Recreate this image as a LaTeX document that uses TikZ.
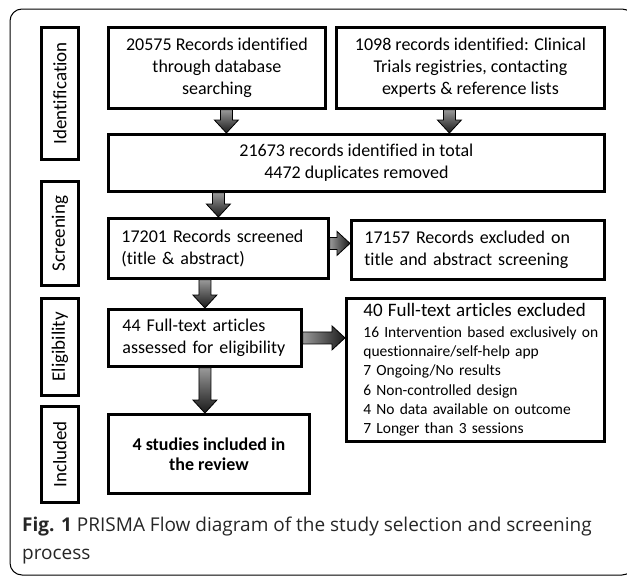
\documentclass[tikz,border=0pt]{standalone}
\usepackage{fontspec}
\setmainfont{Carlito}[Ligatures={NoCommon,NoContextual,NoRare}, Contextuals=NoAlternate]
\newfontfamily\capfont{Open Sans}
\usetikzlibrary{calc}

\tikzset{
  box/.style={draw=black, line width=2.8pt, fill=white, inner sep=0pt, anchor=north west,
    font=\fontsize{18}{22}\selectfont},
  stagebox/.style={draw=black, line width=2.8pt, inner sep=0pt, anchor=north west,
    minimum width=37pt, font=\fontsize{19}{22}\selectfont},
  blockarrow/.style={draw=black, line width=0.8pt, line join=miter},
}

\newcommand\vblockarrow[2]{%
  \path[blockarrow, top color=black!40, bottom color=black!90] let \p1=(#1), \p2=(#2) in
  (\x1-6pt,\y1) -- (\x1-6pt,\y2+13pt) -- (\x1-12pt,\y2+13pt) -- (\x1,\y2) --
  (\x1+12pt,\y2+13pt) -- (\x1+6pt,\y2+13pt) -- (\x1+6pt,\y1) -- cycle;}
\newcommand\hblockarrow[2]{%
  \path[blockarrow, left color=black!40, right color=black!90] let \p1=(#1), \p2=(#2) in
  (\x1,\y1+6pt) -- (\x2-13pt,\y1+6pt) -- (\x2-13pt,\y1+12pt) -- (\x2,\y1) --
  (\x2-13pt,\y1-12pt) -- (\x2-13pt,\y1-6pt) -- (\x1,\y1-6pt) -- cycle;}

\begin{document}
\begin{tikzpicture}[x=1pt, y=-1pt]
\useasboundingbox (0,0) rectangle (627,576);
\clip (0,0) rectangle (627,576);
\fill[white] (0,0) rectangle (627,576);

% outer frame
\draw[line width=1pt, rounded corners=12pt] (10,9) rectangle (634,575);

% stage labels
\node[stagebox, minimum height=132pt] (s1) at (40,26) {\rotatebox{90}{Identification}};
\node[stagebox, minimum height=104pt] (s2) at (40,180) {\rotatebox{90}{Screening}};
\node[stagebox, minimum height=97pt] (s3) at (40,297) {\rotatebox{90}{Eligibility}};
\node[stagebox, minimum height=96pt] (s4) at (40,405) {\rotatebox{90}{Included}};

% boxes
\node[box, minimum width=217pt, minimum height=81pt, align=center] (A) at (107,26)
  {20575 Records identified\\through database\\searching};
\node[box, minimum width=268pt, minimum height=81pt, align=center] (B) at (335,26)
  {1098 records identified: Clinical\\Trials registries, contacting\\experts \& reference lists};
\node[box, minimum width=496pt, minimum height=57pt, align=center] (C) at (107,133)
  {21673 records identified in total\\4472 duplicates removed};
\node[box, minimum width=220pt, minimum height=60pt, text width=194pt, align=left] (D) at (107,217)
  {\mbox{17201 Records screened}\\\mbox{(title \& abstract)}};
\node[box, minimum width=253pt, minimum height=59pt, text width=227pt, align=left] (E) at (350,219)
  {\mbox{17157 Records excluded on}\\\mbox{title and abstract screening}};
\node[box, minimum width=193pt, minimum height=57pt, text width=165pt, align=left] (F) at (107,308)
  {\mbox{44 Full-text articles}\\\mbox{assessed for eligibility}};
\node[box, minimum width=258pt, minimum height=143pt, text width=224pt, align=left,
  font=\fontsize{15.5}{19.3}\selectfont] (G) at (345,297)
  {\mbox{\fontsize{19}{22}\selectfont 40 Full-text articles excluded}\\[1.5pt]
   \mbox{16 Intervention based exclusively on}\\
   \mbox{questionnaire/self-help app}\\
   \mbox{7 Ongoing/No results}\\
   \mbox{6 Non-controlled design}\\
   \mbox{4 No data available on outcome}\\
   \mbox{7 Longer than 3 sessions}};
\node[box, minimum width=201pt, minimum height=79pt, align=center, font=\fontsize{18}{20}\selectfont\bfseries] (H) at (107,413)
  {4 studies included in\\the review};

% arrows
\vblockarrow{[xshift=9.5pt]A.south}{C.north}
\vblockarrow{[xshift=-21pt]B.south}{C.north}
\vblockarrow{C.south -| D.north}{D.north}
\hblockarrow{[yshift=5pt]D.east}{E.west}
\vblockarrow{D.south -| F.north}{F.north}
\hblockarrow{F.east}{G.west}
\vblockarrow{F.south}{H.north}

% caption
\node[anchor=north west, inner sep=0pt, align=left, text=black!85, font=\capfont\fontsize{19}{28}\selectfont] (cap) at (22,517)
  {\textbf{Fig. 1} PRISMA Flow diagram of the study selection and screening\\process};
\end{tikzpicture}
\end{document}
